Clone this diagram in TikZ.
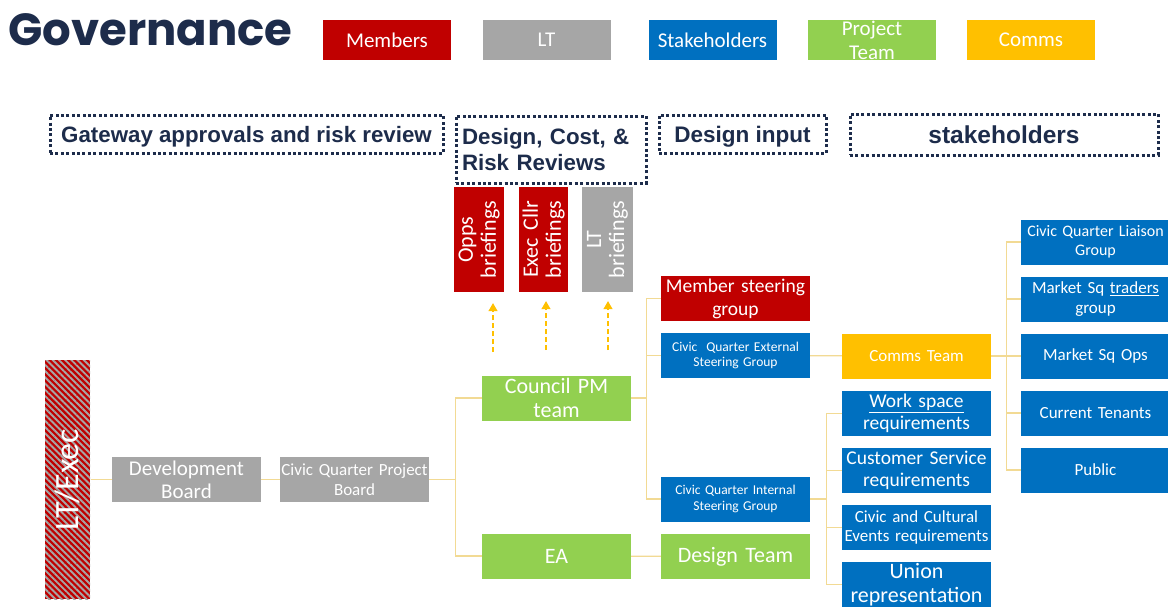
\documentclass[tikz,border=0pt]{standalone}
\usepackage{fontspec}
\setmainfont{Carlito}
\newfontfamily\headfont{Liberation Sans}
\newfontfamily\titlefont{Poppins}
\usepackage{tikz}
\usetikzlibrary{arrows.meta,patterns.meta}

\definecolor{members}{HTML}{C00000}
\definecolor{ltgrey}{HTML}{A6A6A6}
\definecolor{stake}{HTML}{0070C0}
\definecolor{project}{HTML}{92D050}
\definecolor{comms}{HTML}{FFC000}
\definecolor{navy}{HTML}{1D2C4B}
\definecolor{linkc}{HTML}{F2DA94}

\newcommand{\fs}[2]{\fontsize{#1}{#2}\selectfont}

\begin{document}
\begin{tikzpicture}[x=1pt, y=-1pt, node distance=57pt,
	box/.style = {minimum width=149pt, minimum height=45pt, inner sep=0pt, text width=149pt, align=center, text=white},
	keybox/.style = {minimum width=128pt, minimum height=40pt, inner sep=0pt, text width=128pt, align=center, text=white, font=\fs{21}{24}},
	hdr/.style = {draw=navy, line width=3pt, dash pattern=on 3pt off 2.4pt, text=navy, inner sep=0pt},
	brief/.style = {rotate=90, minimum width=105pt, minimum height=50pt, inner sep=0pt, text width=105pt, align=center, text=white, font=\fs{22}{23}},
	uparrow/.style = {draw=comms, line width=2.4pt, dash pattern=on 5pt off 3pt, -{Triangle[length=8pt,width=8.5pt]}},
	link/.style = {draw=linkc, line width=1.3pt}]
	\useasboundingbox[fill=white] (0,0) rectangle (1168,606);

	% title and colour key
	\node[anchor=base west, inner sep=0pt, text=navy, font=\titlefont\bfseries\fs{45}{45}] (title) at (8,45) {Governance};
	\node[keybox, fill=members] (k1) at (387,40) {Members};
	\node[keybox, fill=ltgrey] (k2) at (546.5,40) {LT};
	\node[keybox, fill=stake] (k3) at (712.5,40) {Stakeholders};
	\node[keybox, fill=project] (k4) at (872,40) {Project\\Team};
	\node[keybox, fill=comms] (k5) at (1031,40) {Comms};

	% column headings
	\node[hdr, text depth=0pt, minimum width=393pt, minimum height=38pt, font=\headfont\bfseries\fs{22.3}{26}] (h1) at (246.5,134) {Gateway approvals and risk review};
	\node[hdr, minimum width=190pt, minimum height=67pt, text width=178pt, align=left, font=\headfont\bfseries\fs{22.3}{26}] (h2) at (551,149.5) {Design, Cost, \&\\Risk Reviews};
	\node[hdr, text depth=0pt, minimum width=167pt, minimum height=38pt, font=\headfont\bfseries\fs{22.5}{26}] (h3) at (742.5,134) {Design input};
	\node[hdr, text depth=0pt, minimum width=308pt, minimum height=41pt, font=\headfont\bfseries\fs{24.5}{28}] (h4) at (1004,134.5) {stakeholders};

	% briefings
	\node[brief, fill=members] (b1) at (479,239.5) {Opps\\briefings};
	\node[brief, fill=members, minimum height=49pt] (b2) at (543.5,239.5) {Exec Cllr\\briefings};
	\node[brief, fill=ltgrey, minimum height=51pt] (b3) at (607.5,239.5) {LT\\briefings};
	\coordinate (a1) at (493,352);
	\coordinate (a2) at (546,350);
	\coordinate (a3) at (608,350);
	\draw[uparrow] (a1) -- (493,303);
	\draw[uparrow] (a2) -- (546,301);
	\draw[uparrow] (a3) -- (608,301);

	% main chain
	\node[minimum width=45pt, minimum height=239pt, inner sep=0pt, preaction={fill=members},
		pattern={Lines[angle=-45, distance=4.4pt, line width=1.9pt]}, pattern color=ltgrey,
		text=white, font=\fs{34}{34}] (ex) at (67.5,479.5) {\rotatebox{90}{LT/Exec}};
	\node[box, fill=ltgrey, font=\fs{21}{23}] (db) at (186.5,479.5) {Development\\Board};
	\node[box, fill=ltgrey, font=\fs{17}{20}] (pb) at (354.5,479.5) {Civic Quarter Project\\Board};
	\node[box, fill=project, font=\fs{22}{24}] (pm) at (556.5,398) {Council PM\\team};
	\node[box, fill=project, font=\fs{22}{24}] (ea) at (556.5,556) {EA};

	\node[box, fill=members, font=\fs{19.5}{23}] (ms) at (735.5,298.5) {Member steering\\group};
	\node[box, fill=stake, font=\fs{13.5}{15}] (es) at (735.5,355.5) {Civic~~Quarter External\\Steering Group};
	\node[box, fill=stake, font=\fs{13.5}{16}] (is) at (735.5,499) {Civic Quarter Internal\\Steering Group};
	\node[box, fill=project, font=\fs{22}{24}] (dt) at (735.5,556.5) {Design Team};

	% internal requirements
	\node[box, fill=stake, font=\fs{19.5}{22}] (r1) at (916.5,413.5) {\underline{Work space}\\requirements};
	\node[box, fill=stake, font=\fs{19.5}{22}] (r2) [below of=r1] {Customer Service\\requirements};
	\node[box, fill=stake, font=\fs{17}{19}] (r3) [below of=r2] {Civic and Cultural\\Events requirements};
	\node[box, fill=stake, font=\fs{22}{24}] (r4) [below of=r3] {Union\\representation};

	% comms and stakeholder groups
	\node[box, fill=comms, font=\fs{17}{20}] (ct) at (916.5,356) {Comms Team};
	\node[box, fill=stake, font=\fs{16}{19}] (s1) at (1095.5,242) {Civic Quarter Liaison\\Group};
	\node[box, fill=stake, font=\fs{17}{20}] (s2) [below of=s1] {Market Sq \underline{traders}\\group};
	\node[box, fill=stake, font=\fs{17}{20}] (s3) [below of=s2] {Market Sq Ops};
	\node[box, fill=stake, font=\fs{17}{20}] (s4) [below of=s3] {Current Tenants};
	\node[box, fill=stake, font=\fs{17}{20}] (s5) [below of=s4] {Public};

	% connectors
	\draw[link] (ex) -- (db);
	\draw[link] (db) -- (pb);
	\draw[link] (pb.east) -- +(26,0) |- (pm.west);
	\draw[link] (pb.east) -- +(26,0) |- (ea.west);
	\draw[link] (pm.east) -- +(15,0) |- (ms.west);
	\draw[link] (pm.east) -- +(15,0) |- (es.west);
	\draw[link] (pm.east) -- +(15,0) |- (is.west);
	\draw[link] (ea) -- (dt);
	\draw[link] (es) -- (ct);
	\foreach \r in {r1,r2,r3,r4}
		\draw[link] (is.east) -- +(16,0) |- (\r.west);
	\foreach \s in {s1,s2,s3,s4,s5}
		\draw[link] (ct.east) -- +(15,0) |- (\s.west);
\end{tikzpicture}
\end{document}
